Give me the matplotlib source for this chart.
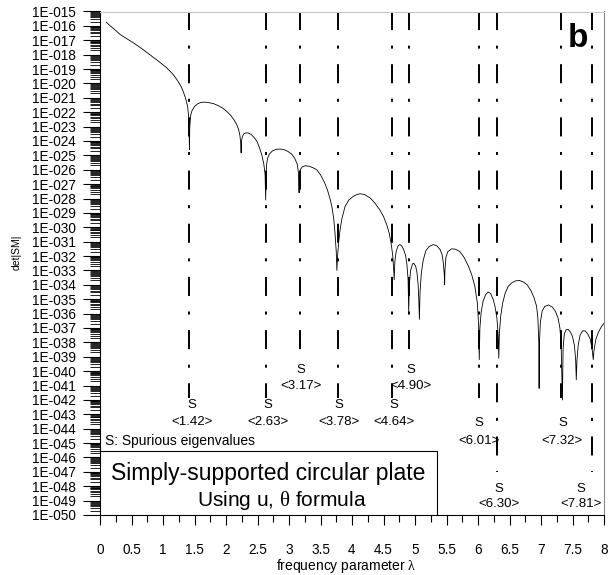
import math
import matplotlib
matplotlib.use("Agg")
import matplotlib.pyplot as plt
from matplotlib.ticker import FixedLocator, MultipleLocator, FuncFormatter, NullFormatter
from matplotlib.patches import Rectangle

plt.rcParams['font.family'] = ['Liberation Sans', 'DejaVu Sans']
plt.rcParams['mathtext.fontset'] = 'custom'
plt.rcParams['mathtext.rm'] = 'Liberation Serif'

# det|SM| curve (lambda, log10 value)
lam = [0.10, 0.15, 0.20, 0.26, 0.32, 0.42, 0.53, 0.66, 0.79, 0.92, 1.06, 1.15, 1.22, 1.28,
       1.32, 1.36, 1.39, 1.41, 1.42,
       1.425, 1.44, 1.46, 1.50, 1.55, 1.60, 1.66, 1.72, 1.80, 1.88, 1.95, 2.02, 2.08, 2.13,
       2.17, 2.20, 2.22, 2.235, 2.24,
       2.245, 2.26, 2.28, 2.31, 2.35, 2.40, 2.45, 2.49, 2.53, 2.57, 2.60, 2.62, 2.63,
       2.635, 2.645, 2.66, 2.69, 2.74, 2.80, 2.86, 2.92, 2.98, 3.04, 3.09, 3.13, 3.15, 3.16,
       3.165, 3.18, 3.21, 3.26, 3.32, 3.38, 3.44, 3.50, 3.56, 3.61, 3.65, 3.68, 3.71, 3.73,
       3.75, 3.76,
       3.77, 3.79, 3.81, 3.84, 3.89, 3.95, 4.02, 4.08, 4.13, 4.20, 4.29, 4.36, 4.44, 4.50,
       4.55, 4.59, 4.62, 4.645, 4.66, 4.67,
       4.68, 4.70, 4.73, 4.76, 4.79, 4.82, 4.85, 4.87, 4.89, 4.90,
       4.91, 4.93, 4.96, 4.98, 5.01, 5.03, 5.05, 5.06, 5.07,
       5.08, 5.10, 5.13, 5.17, 5.22, 5.29, 5.35, 5.40, 5.43, 5.45, 5.465, 5.47,
       5.475, 5.49, 5.52, 5.58, 5.64, 5.71, 5.78, 5.85, 5.90, 5.95, 5.99, 6.01, 6.02,
       6.03, 6.05, 6.08, 6.12, 6.16, 6.20, 6.24, 6.27, 6.30, 6.32, 6.33,
       6.34, 6.36, 6.39, 6.43, 6.48, 6.54, 6.60, 6.66, 6.72, 6.78, 6.84, 6.89, 6.93, 6.95,
       6.965, 6.97,
       6.975, 6.99, 7.02, 7.06, 7.12, 7.18, 7.23, 7.27, 7.30, 7.32, 7.34,
       7.35, 7.37, 7.40, 7.43, 7.47, 7.50, 7.53, 7.55, 7.56,
       7.57, 7.59, 7.62, 7.66, 7.70, 7.74, 7.78, 7.81, 7.83,
       7.84, 7.87, 7.91, 7.96, 8.00]
logdet = [-15.74, -15.95, -16.13, -16.37, -16.60, -16.88, -17.18, -17.57, -18.00, -18.43,
          -18.92, -19.32, -19.73, -20.15, -20.55, -21.05, -21.60, -22.40, -24.60,
          -23.00, -22.20, -21.90, -21.60, -21.42, -21.32, -21.30, -21.33, -21.40, -21.55,
          -21.72, -21.98, -22.25, -22.55, -22.86, -23.20, -23.60, -24.20, -24.83,
          -24.00, -23.70, -23.52, -23.44, -23.44, -23.55, -23.78, -24.02, -24.45, -25.00,
          -25.60, -26.30, -28.10,
          -26.50, -25.60, -25.20, -24.90, -24.68, -24.58, -24.56, -24.60, -24.72, -24.90,
          -25.20, -25.60, -26.20, -27.60,
          -26.50, -26.00, -25.80, -25.72, -25.76, -25.86, -26.00, -26.35, -26.85, -27.40,
          -28.00, -28.55, -29.40, -30.40, -31.70, -33.00,
          -32.00, -31.00, -30.20, -29.40, -28.55, -28.10, -27.85, -27.72, -27.67, -27.72,
          -27.97, -28.30, -28.78, -29.25, -29.80, -30.40, -31.10, -31.90, -32.80, -33.65,
          -32.40, -31.70, -31.30, -31.20, -31.30, -31.55, -31.95, -32.50, -33.60, -35.90,
          -34.00, -33.00, -32.55, -32.50, -32.70, -33.10, -34.00, -35.00, -36.40,
          -34.50, -33.20, -32.30, -31.65, -31.35, -31.20, -31.30, -31.56, -31.90, -32.50,
          -33.30, -34.00,
          -33.00, -32.10, -31.70, -31.50, -31.52, -31.68, -32.10, -32.72, -33.30, -34.10,
          -35.27, -36.80, -39.20,
          -37.00, -35.90, -35.15, -34.70, -34.50, -34.60, -35.00, -35.50, -36.30, -37.50,
          -39.10,
          -37.30, -36.20, -35.30, -34.60, -34.10, -33.85, -33.72, -33.70, -33.80, -34.00,
          -34.40, -34.90, -35.50, -36.30, -38.00, -41.20,
          -38.00, -36.60, -35.80, -35.50, -35.40, -35.55, -35.85, -36.30, -37.00, -38.20,
          -42.00,
          -38.50, -37.40, -37.12, -37.10, -37.30, -37.60, -38.20, -39.20, -40.60,
          -39.30, -38.20, -37.50, -37.20, -37.20, -37.40, -37.75, -38.40, -39.20,
          -38.60, -37.80, -37.30, -36.90, -36.67]

# spurious eigenvalues
eig = [1.42, 2.63, 3.17, 3.78, 4.64, 4.90, 6.01, 6.30, 7.32, 7.81]
eig_text = ["<1.42>", "<2.63>", "<3.17>", "<3.78>", "<4.64>", "<4.90>",
            "<6.01>", "<6.30>", "<7.32>", "<7.81>"]

# annotation layout (log10 units for y)
line_end = [-41.86, -41.86, -39.22, -41.86, -41.86, -39.22, -41.86, -47.0, -41.86, -47.0]
lab_x = [1.46, 2.67, 3.19, 3.79, 4.67, 4.94, 6.02, 6.33, 7.34, 7.64]
s_y = [-42.35, -42.35, -39.91, -42.35, -42.35, -39.91, -43.62, -48.2, -43.62, -48.2]
v_y = [-43.51, -43.51, -41.0, -43.51, -43.51, -41.0, -44.89, -49.27, -44.89, -49.27]

fig = plt.figure(figsize=(6.11, 5.75), dpi=100)
ax = fig.add_axes([100 / 611, 1 - 515 / 575, 504 / 611, 503.5 / 575])

ax.plot(lam, [10.0 ** v for v in logdet], color="black", lw=0.6)

for i in range(len(eig)):
    ax.plot([eig[i], eig[i]], [1e-15, 10.0 ** line_end[i]], color="black", lw=1.4,
            linestyle=(0, (9.8, 8.0, 1.55, 8.0)))
    ax.text(lab_x[i], 10.0 ** s_y[i], "S", ha="center", va="center", fontsize=9.5)
    ax.text(lab_x[i], 10.0 ** v_y[i], eig_text[i], ha="center", va="center", fontsize=9.5)

ax.set_yscale("log")
ax.set_xlim(0, 8)
ax.set_ylim(1e-50, 1e-15)

ax.yaxis.set_major_locator(FixedLocator([10.0 ** -k for k in range(15, 51)]))
ax.yaxis.set_minor_locator(FixedLocator([m * 10.0 ** -k for k in range(16, 51) for m in range(2, 10)]))
ax.yaxis.set_major_formatter(FuncFormatter(lambda v, p: "1E-%03d" % round(-math.log10(v))))
ax.yaxis.set_minor_formatter(NullFormatter())
ax.xaxis.set_major_locator(MultipleLocator(0.5))
ax.xaxis.set_minor_locator(MultipleLocator(0.25))
ax.xaxis.set_major_formatter(FuncFormatter(lambda v, p: "%g" % v))

ax.tick_params(axis="y", which="major", length=12, width=0.8, pad=5.5, labelsize=9.8)
ax.tick_params(axis="y", which="minor", length=7, width=0.6)
ax.tick_params(axis="x", which="major", length=7, width=0.8, pad=13, labelsize=9.8)
ax.tick_params(axis="x", which="minor", length=5, width=0.8)

ax.spines["top"].set_color("#c8c8c8")
ax.spines["right"].set_color("#888888")

ax.set_ylabel("det|SM|", fontsize=7.5)
ax.yaxis.set_label_coords(-0.155, 0.522)
ax.set_xlabel(r"frequency parameter $\mathrm{\lambda}$", fontsize=10, va="top")
ax.xaxis.set_label_coords(0.488, -0.083)

ax.text(0.948, 0.947, "b", transform=ax.transAxes, ha="center", va="center",
        fontsize=24, fontweight="bold")

ax.add_patch(Rectangle((0, 1e-50), 5.35, 10.0 ** -45.55 - 1e-50, facecolor="white",
                       edgecolor="black", lw=0.8, zorder=3))
ax.text(2.67, 10.0 ** -47.57, "Simply-supported circular plate", ha="center",
        va="baseline", fontsize=16.5, zorder=4)
ax.text(1.535, 10.0 ** -49.38, r"Using u, $\mathrm{\theta}$ formula", ha="left",
        va="baseline", fontsize=15, zorder=4)
ax.text(0.08, 10.0 ** -45.13, "S: Spurious eigenvalues", ha="left", va="baseline",
        fontsize=10)

fig.savefig("out.png", dpi=100)
